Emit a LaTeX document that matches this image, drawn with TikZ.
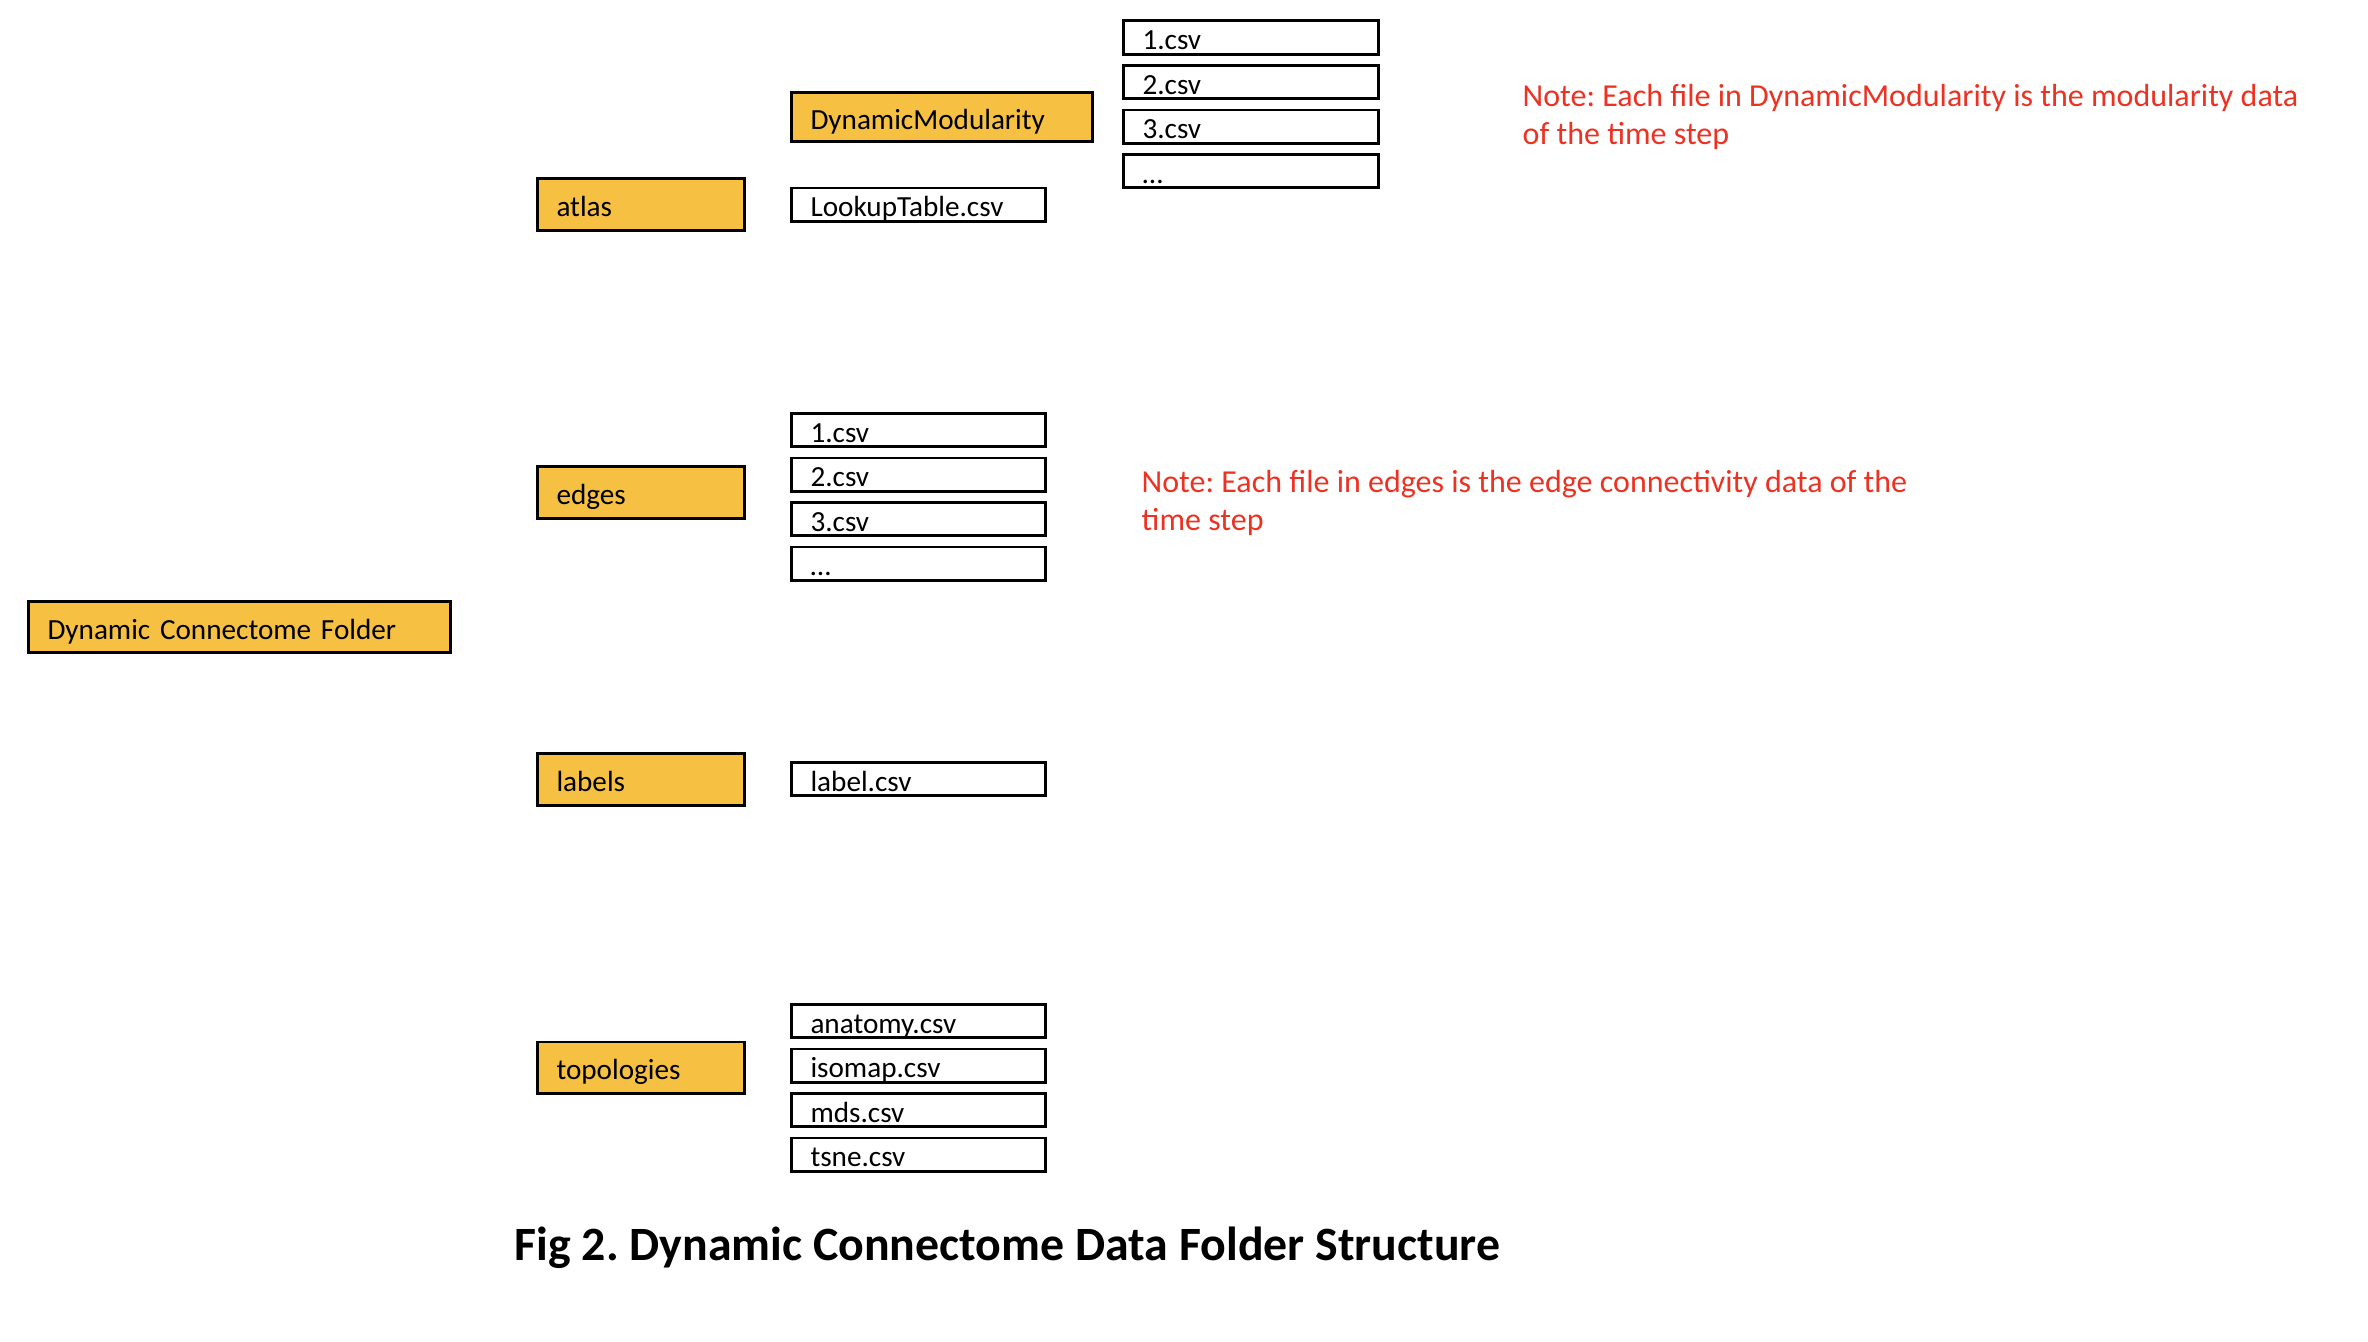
\documentclass[tikz,border=0pt]{standalone}
\usepackage{fontspec}
\setmainfont{Carlito}
\usepackage{tikz}
\usetikzlibrary{positioning}

\definecolor{folderfill}{RGB}{246,193,67}
\definecolor{notered}{RGB}{235,50,35}
\frenchspacing

\begin{document}
\begin{tikzpicture}[x=0.01cm,y=-0.01cm,
	box/.style={draw,line width=0.85pt,inner xsep=0.19cm,inner ysep=0pt,align=left,anchor=west,
		text height=0.24cm,text depth=0pt,font=\fontsize{8.3}{10}\selectfont},
	folder/.style={box,fill=folderfill,minimum height=0.51cm},
	file/.style={box,fill=white,minimum height=0.33cm},
	note/.style={text=notered,align=left,anchor=base west,inner sep=0pt,font=\fontsize{9.1}{10.8}\selectfont}]
	\useasboundingbox (0,0) rectangle (2368,1342);

	% root and sub folders
	\node[folder,text width=3.84cm] (root) at (27,627) {Dynamic Connectome Folder};
	\node[folder,text width=1.69cm] (atlas) at (536,204.5) {atlas};
	\node[folder,text width=1.69cm] (edges) at (536,492.5) {edges};
	\node[folder,text width=1.69cm] (labels) at (536,779.5) {labels};
	\node[folder,text width=1.69cm] (topologies) at (536,1067.5) {topologies};

	% atlas
	\node[folder,text width=2.63cm,minimum height=0.48cm] (dynmod) at (790,117) {DynamicModularity};
	\node[file,text width=2.16cm] (lookup) at (790,204.5) {LookupTable.csv};
	\foreach \f [count=\i from 0] in {1.csv,2.csv,3.csv,…}
		\node[file,text width=2.17cm] (modfile\i) at (1122,37.5+44.5*\i) {\f};

	% edges
	\foreach \f [count=\i from 0] in {1.csv,2.csv,3.csv,…}
		\node[file,text width=2.16cm] (edgefile\i) at (790,430+44.5*\i) {\f};

	% labels
	\node[file,text width=2.16cm] (labelfile) at (790,779) {label.csv};

	% topologies
	\foreach \f [count=\i from 0] in {anatomy.csv,isomap.csv,mds.csv,tsne.csv}
		\node[file,text width=2.16cm] (topofile\i) at (790,1021+44.5*\i) {\f};

	% notes (base = last line)
	\node[note] (modnote) at (1522,144) {Note: Each file in DynamicModularity is the modularity data\\of the time step};
	\node[note] (edgenote) at (1141,530) {Note: Each file in edges is the edge connectivity data of the\\time step};

	\node[anchor=base west,inner sep=0pt,font=\fontsize{13.6}{16}\selectfont\bfseries] (caption) at (514,1260)
		{Fig 2. Dynamic Connectome Data Folder Structure};
\end{tikzpicture}
\end{document}
